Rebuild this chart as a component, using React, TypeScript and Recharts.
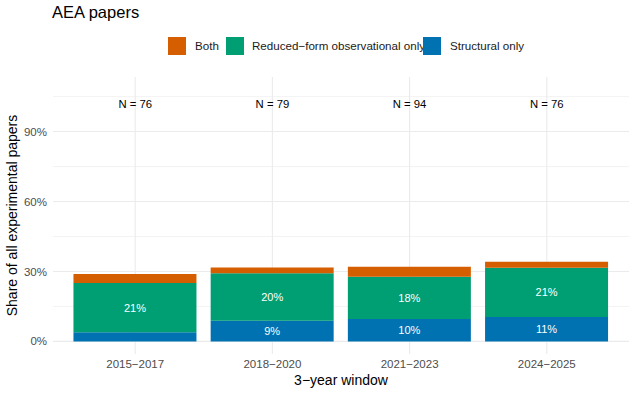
import React from 'react';
import { ComposedChart, Bar, XAxis, YAxis, CartesianGrid, LabelList, ReferenceDot, Legend } from 'recharts';

const categories = ['2015−2017', '2018−2020', '2021−2023', '2024−2025'];
const structuralOnly = [3.9, 8.9, 9.6, 10.5];
const reducedFormOnly = [21.1, 20.3, 18.1, 21.1];
const bothShare = [3.9, 2.5, 4.3, 2.6];
const nPapers = [76, 79, 94, 76];
const majorTicks = [0, 30, 60, 90];
const minorTicks = [15, 45, 75, 105];

const seriesInfo = [
  { key: 'both', name: 'Both', color: '#D55E00' },
  { key: 'rf', name: 'Reduced−form observational only', color: '#009E73' },
  { key: 'structural', name: 'Structural only', color: '#0072B2' },
];

const data = categories.map((c, i) => ({
  window: c,
  structural: structuralOnly[i],
  rf: reducedFormOnly[i],
  both: bothShare[i],
  n: nPapers[i],
}));

const FONT = '"Liberation Sans", Arial, Helvetica, sans-serif';
const legendSwatchX = [168, 226, 423];
const legendTextX = [195, 252, 450];

const LegendBlock = () => (
  <div style={{ position: 'relative', width: 636, height: 70, fontFamily: FONT }}>
    <div style={{ position: 'absolute', left: 52, top: 2, fontSize: 16.5, color: '#000', lineHeight: '20px', whiteSpace: 'nowrap' }}>
      AEA papers
    </div>
    {seriesInfo.map((s, i) => (
      <React.Fragment key={s.key}>
        <div style={{ position: 'absolute', left: legendSwatchX[i], top: 37, width: 18, height: 18, background: s.color }} />
        <div style={{ position: 'absolute', left: legendTextX[i], top: 38, fontSize: 11.6, lineHeight: '16px', color: '#1A1A1A', whiteSpace: 'nowrap' }}>
          {s.name}
        </div>
      </React.Fragment>
    ))}
  </div>
);

const pctLabel = (v: any) => (typeof v === 'number' && v >= 5 ? `${Math.round(v)}%` : '');

export default function App() {
  return (
    <div style={{ position: 'absolute', left: 0, top: 0, width: 636, height: 395, background: '#fff' }}>
      <ComposedChart
        width={636}
        height={395}
        data={data}
        margin={{ top: 77, right: 7, bottom: 0, left: 0 }}
        barCategoryGap="5%"
        style={{ fontFamily: FONT }}
      >
        <CartesianGrid horizontalValues={minorTicks} vertical={false} stroke="#EBEBEB" strokeWidth={0.6} />
        <CartesianGrid horizontalValues={majorTicks} vertical={false} stroke="#EBEBEB" strokeWidth={1.1} />
        <CartesianGrid horizontal={false} verticalValues={categories} stroke="#EBEBEB" strokeWidth={1.1} />
        <XAxis
          dataKey="window"
          type="category"
          padding={{ left: 13.6, right: 13.6 }}
          height={41}
          axisLine={false}
          tickLine={false}
          tickSize={4}
          tickMargin={2}
          tick={{ fill: '#4D4D4D', fontSize: 11.5, fontFamily: FONT }}
          label={{
            content: () => (
              <text x={341} y={385} textAnchor="middle" fontSize={14} fill="#000" fontFamily={FONT}>
                3−year window
              </text>
            ),
          }}
        />
        <YAxis
          type="number"
          domain={[-5.4, 113.4]}
          ticks={majorTicks}
          allowDataOverflow
          width={53}
          axisLine={false}
          tickLine={false}
          tickSize={4}
          tickMargin={2}
          tickFormatter={(v: number) => `${v}%`}
          tick={{ fill: '#4D4D4D', fontSize: 11.5, fontFamily: FONT }}
          label={{
            content: () => (
              <text x={17} y={215.5} transform="rotate(-90 17 215.5)" textAnchor="middle" fontSize={14} fill="#000" fontFamily={FONT}>
                Share of all experimental papers
              </text>
            ),
          }}
        />
        <Legend
          layout="vertical"
          align="center"
          verticalAlign="middle"
          wrapperStyle={{ left: 0, top: 0, width: 636, height: 70, margin: 0, padding: 0 }}
          content={() => <LegendBlock />}
        />
        <Bar dataKey="structural" name="Structural only" stackId="s" fill="#0072B2" isAnimationActive={false}>
          <LabelList dataKey="structural" position="center" formatter={pctLabel} fill="#FFFFFF" fontSize={11} fontFamily={FONT} />
        </Bar>
        <Bar dataKey="rf" name="Reduced−form observational only" stackId="s" fill="#009E73" isAnimationActive={false}>
          <LabelList dataKey="rf" position="center" formatter={pctLabel} fill="#FFFFFF" fontSize={11} fontFamily={FONT} />
        </Bar>
        <Bar dataKey="both" name="Both" stackId="s" fill="#D55E00" isAnimationActive={false}>
          <LabelList dataKey="both" position="center" formatter={pctLabel} fill="#FFFFFF" fontSize={11} fontFamily={FONT} />
        </Bar>
        {data.map((d) => (
          <ReferenceDot
            key={d.window}
            x={d.window}
            y={101.7}
            r={0}
            fill="none"
            stroke="none"
            label={{ value: `N = ${d.n}`, position: 'center', fill: '#000', fontSize: 11.3, fontFamily: FONT }}
          />
        ))}
      </ComposedChart>
    </div>
  );
}
